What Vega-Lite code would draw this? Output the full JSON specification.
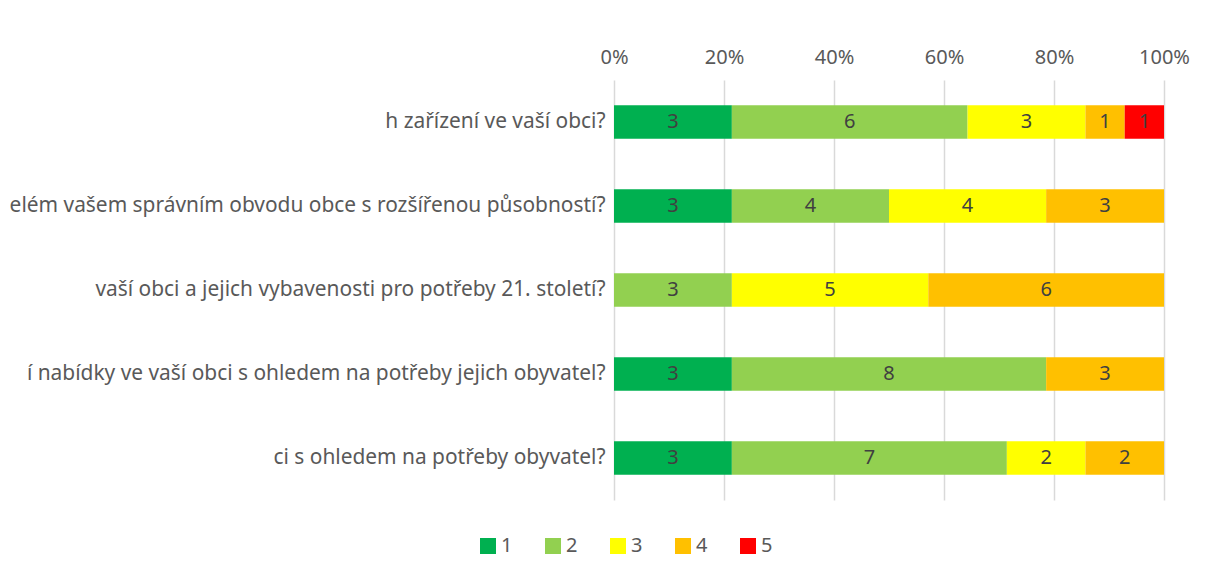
{
  "$schema": "https://vega.github.io/schema/vega-lite/v6.json",
  "width": 550,
  "height": 420,
  "autosize": {"type": "none"},
  "padding": {"left": 614, "top": 80, "right": 41, "bottom": 74},
  "background": "white",
  "config": {
    "view": {"stroke": null},
    "font": "Noto Sans",
    "axis": {"labelFont": "Noto Sans", "labelColor": "#595959", "labelFontSize": 20}
  },
  "data": {
    "values": [
      {"q": "h zařízení ve vaší obci?", "qi": 1, "cat": "1", "value": 3},
      {"q": "h zařízení ve vaší obci?", "qi": 1, "cat": "2", "value": 6},
      {"q": "h zařízení ve vaší obci?", "qi": 1, "cat": "3", "value": 3},
      {"q": "h zařízení ve vaší obci?", "qi": 1, "cat": "4", "value": 1},
      {"q": "h zařízení ve vaší obci?", "qi": 1, "cat": "5", "value": 1},
      {"q": "elém vašem správním obvodu obce s rozšířenou působností?", "qi": 2, "cat": "1", "value": 3},
      {"q": "elém vašem správním obvodu obce s rozšířenou působností?", "qi": 2, "cat": "2", "value": 4},
      {"q": "elém vašem správním obvodu obce s rozšířenou působností?", "qi": 2, "cat": "3", "value": 4},
      {"q": "elém vašem správním obvodu obce s rozšířenou působností?", "qi": 2, "cat": "4", "value": 3},
      {"q": "elém vašem správním obvodu obce s rozšířenou působností?", "qi": 2, "cat": "5", "value": 0},
      {"q": "vaší obci a jejich vybavenosti pro potřeby 21. století?", "qi": 3, "cat": "1", "value": 0},
      {"q": "vaší obci a jejich vybavenosti pro potřeby 21. století?", "qi": 3, "cat": "2", "value": 3},
      {"q": "vaší obci a jejich vybavenosti pro potřeby 21. století?", "qi": 3, "cat": "3", "value": 5},
      {"q": "vaší obci a jejich vybavenosti pro potřeby 21. století?", "qi": 3, "cat": "4", "value": 6},
      {"q": "vaší obci a jejich vybavenosti pro potřeby 21. století?", "qi": 3, "cat": "5", "value": 0},
      {"q": "í nabídky ve vaší obci s ohledem na potřeby jejich obyvatel?", "qi": 4, "cat": "1", "value": 3},
      {"q": "í nabídky ve vaší obci s ohledem na potřeby jejich obyvatel?", "qi": 4, "cat": "2", "value": 8},
      {"q": "í nabídky ve vaší obci s ohledem na potřeby jejich obyvatel?", "qi": 4, "cat": "3", "value": 0},
      {"q": "í nabídky ve vaší obci s ohledem na potřeby jejich obyvatel?", "qi": 4, "cat": "4", "value": 3},
      {"q": "í nabídky ve vaší obci s ohledem na potřeby jejich obyvatel?", "qi": 4, "cat": "5", "value": 0},
      {"q": "ci s ohledem na potřeby obyvatel?", "qi": 5, "cat": "1", "value": 3},
      {"q": "ci s ohledem na potřeby obyvatel?", "qi": 5, "cat": "2", "value": 7},
      {"q": "ci s ohledem na potřeby obyvatel?", "qi": 5, "cat": "3", "value": 2},
      {"q": "ci s ohledem na potřeby obyvatel?", "qi": 5, "cat": "4", "value": 2},
      {"q": "ci s ohledem na potřeby obyvatel?", "qi": 5, "cat": "5", "value": 0}
    ]
  },
  "transform": [
    {"stack": "value", "groupby": ["q"], "sort": [{"field": "cat", "order": "ascending"}], "offset": "normalize", "as": ["x0", "x1"]},
    {"calculate": "(datum.x0 + datum.x1) / 2", "as": "xmid"}
  ],
  "encoding": {
    "y": {
      "field": "q",
      "type": "nominal",
      "sort": {"field": "qi", "op": "min"},
      "title": null,
      "scale": {"paddingInner": 0.6, "paddingOuter": 0.3},
      "axis": {"domain": false, "ticks": false, "labelPadding": 9, "labelLimit": 800, "labelFontSize": 20.9}
    }
  },
  "layer": [
    {
      "mark": {"type": "bar"},
      "encoding": {
        "x": {
          "field": "x0",
          "type": "quantitative",
          "scale": {"domain": [0, 1], "nice": false},
          "title": null,
          "axis": {
            "orient": "top",
            "format": ".0%",
            "values": [0, 0.2, 0.4, 0.6, 0.8, 1],
            "domain": false,
            "ticks": false,
            "labelFlush": false,
            "labelPadding": 13,
            "grid": true,
            "gridColor": "#d9d9d9",
            "gridWidth": 1.5
          }
        },
        "x2": {"field": "x1"},
        "color": {
          "field": "cat",
          "type": "nominal",
          "title": null,
          "scale": {"domain": ["1", "2", "3", "4", "5"], "range": ["#00B050", "#92D050", "#FFFF00", "#FFC000", "#FF0000"]},
          "legend": {
            "orient": "none",
            "direction": "horizontal",
            "legendX": -136,
            "legendY": 456,
            "symbolType": "square",
            "symbolSize": 256,
            "symbolStrokeWidth": 0,
            "symbolOpacity": 1,
            "labelFontSize": 20,
            "labelColor": "#595959",
            "labelFont": "Noto Sans",
            "labelOffset": 3,
            "columnPadding": 30
          }
        }
      }
    },
    {
      "transform": [{"filter": "datum.value > 0"}],
      "mark": {"type": "text", "fontSize": 20, "color": "#404040", "font": "Noto Sans"},
      "encoding": {
        "x": {"field": "xmid", "type": "quantitative"},
        "text": {"field": "value", "type": "quantitative"}
      }
    }
  ]
}
